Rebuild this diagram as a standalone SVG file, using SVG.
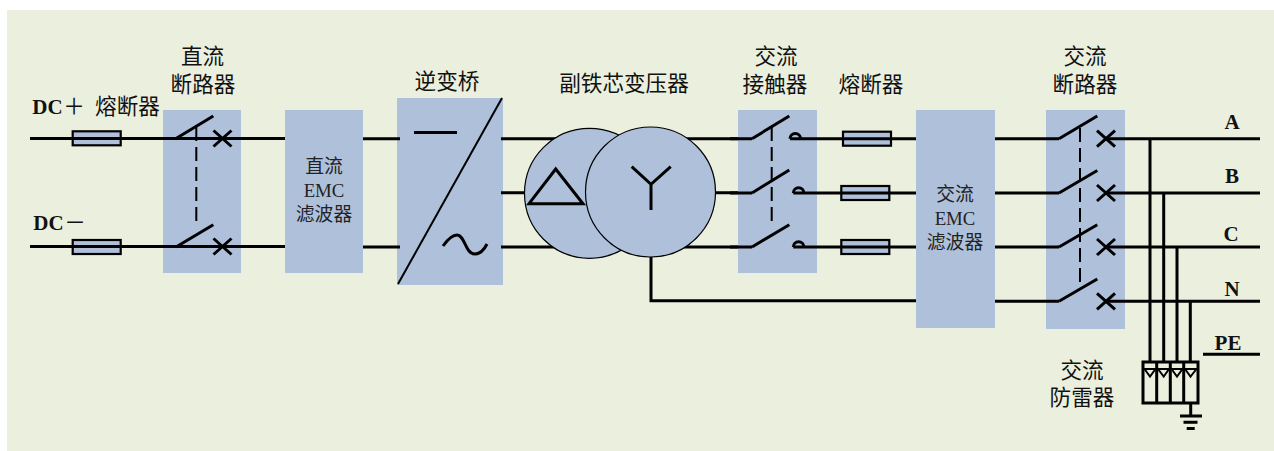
<svg xmlns="http://www.w3.org/2000/svg" width="1274" height="451" viewBox="0 0 1274 451">
<style>
text{font-family:"Liberation Serif","Noto Sans CJK SC",serif;fill:#111;text-anchor:middle}
.t{font-size:21.6px}
.s{font-size:18.8px;fill:#222}
.b{font-size:21px;font-weight:bold}
.p{font-size:21.6px}
.box{fill:#aec0da;stroke:none}
.w{fill:none;stroke:#000;stroke-width:3}
.m{fill:none;stroke:#000;stroke-width:3}
.d{fill:none;stroke:#000;stroke-width:2;stroke-dasharray:14 6}
.f{fill:#aec0da;stroke:#000;stroke-width:2.2}
.c{fill:#aec0da;stroke:#000;stroke-width:1.2}
</style>
<defs>
<g id="x"><path class="w" d="M-9-8L9 8M-9 8L9-8"/></g>
<rect id="fuse" class="f" width="48" height="14"/>
<path id="hook" class="m" d="M0 0a5.300 5.300 0 0 1 10.600 0"/>
</defs>
<rect x="7" y="10" width="1267" height="441" fill="#ebefde"/>
<g id="dc-breaker"><rect class="box" x="163" y="110" width="78" height="163"/><text class="t" x="202.500" y="64">直流</text><text class="t" x="203" y="92">断路器</text></g>
<g id="dc-emc"><rect class="box" x="285" y="110" width="78" height="163"/><text class="s" x="324" y="173">直流</text><text class="s" x="324" y="197">EMC</text><text class="s" x="324" y="221">滤波器</text></g>
<g id="inverter"><rect class="box" x="397" y="98" width="106" height="187"/><text class="t" x="447" y="89">逆变桥</text>
<path fill="none" stroke="#000" stroke-width="2" d="M398 284L502 98"/><path class="w" d="M414 132.500H457"/><path class="w" d="M443 246C448 239 452 235 457 235C465 235 465 254 475 254C480 254 484 250 487 244"/></g>
<g id="connectors">
<path class="w" d="M30 138.500H73M121 138.500H285M30 246.500H73M121 246.500H285"/>
<path class="w" d="M363 138.700H400M363 247H400M501 138.700H560M501 192.700H530M501 247H560M680 138.700H738M710 192.700H738M680 247H738"/>
<path class="w" d="M651 257V300.700H916"/>
<path class="w" d="M790 138.700H843M891 138.700H916M793.300 193H841M889 193H916M793.300 247H841M889 247H916"/>
<path class="w" d="M995 138.700H1059M995 193H1059M995 247H1059M995 301.300H1059"/>
<path class="w" d="M1106 138.700H1260M1106 193H1260M1106 247H1260M1106 301.300H1260"/>
<path class="w" d="M1150 138.700V362M1163.700 193V362M1177 247V362M1190.300 301.300V362"/>
<path class="w" d="M1203 354.300H1260"/>
</g>
<g id="dc-switches">
<path class="m" d="M176 138.500L213.300 116M176 247L213.300 224.700"/><path class="d" d="M196.300 127V225"/>
<use href="#x" x="222.500" y="138.500"/><use href="#x" x="222.500" y="246.500"/>
</g>
<g id="dc-fuse-1"><use href="#fuse" x="72.700" y="131.300"/><path class="w" d="M73 138.500H121"/></g>
<g id="dc-fuse-2"><use href="#fuse" x="72.700" y="240"/><path class="w" d="M73 246.500H121"/></g>
<g id="dc-labels"><text class="b" x="47.500" y="114">DC</text><text class="p" x="74" y="114">＋</text><text class="t" x="127.500" y="114">熔断器</text><text class="b" x="48.500" y="230">DC</text><text class="p" x="75" y="230">－</text></g>
<g id="transformer"><text class="t" x="624" y="91">副铁芯变压器</text>
<circle class="c" cx="589.500" cy="193.300" r="65"/><circle class="c" cx="650.500" cy="192" r="65"/>
<path class="w" d="M555.700 169L583 203.700H529Z"/><path class="w" d="M631.700 166.700L651 184.300L670.700 166.700M651 184.300V210"/></g>
<g id="ac-contactor"><rect class="box" x="738" y="110" width="79" height="163"/><text class="t" x="776" y="64">交流</text><text class="t" x="775" y="92">接触器</text>
<path class="w" d="M730 138.700H752M730 193H752M730 247H752"/>
<path class="m" d="M752 138.700L789.300 116M752 193L789.300 170M752 247L789.300 224.700"/><path class="d" d="M771.700 127V224"/>
<use href="#hook" x="790" y="138.700"/><use href="#hook" x="793.300" y="193"/><use href="#hook" x="793.300" y="247"/>
<path class="w" d="M790 138.700H817M793.300 193H817M793.300 247H817"/></g>
<g id="ac-fuses"><text class="t" x="871" y="92">熔断器</text>
<use href="#fuse" x="843" y="131.700"/><use href="#fuse" x="841.300" y="186"/><use href="#fuse" x="841.300" y="240"/>
<path class="w" d="M843 138.700H891M841 193H889M841 247H889"/></g>
<g id="ac-emc"><rect class="box" x="916" y="110" width="79" height="218"/><text class="s" x="955" y="201">交流</text><text class="s" x="955" y="225">EMC</text><text class="s" x="955" y="249">滤波器</text></g>
<g id="ac-breaker"><rect class="box" x="1046" y="110" width="79" height="219"/><text class="t" x="1085" y="64">交流</text><text class="t" x="1085" y="92">断路器</text>
<path class="w" d="M1046 138.700H1059M1046 193H1059M1046 247H1059M1046 301.300H1059M1106 138.700H1125M1106 193H1125M1106 247H1125M1106 301.300H1125"/>
<path class="m" d="M1059 138.700L1097.300 116M1059 193L1097.300 170.500M1059 247L1097.300 224.700M1059 301.300L1097.300 279"/><path class="d" d="M1080 128V288"/>
<use href="#x" x="1106" y="138.700"/><use href="#x" x="1106" y="193"/><use href="#x" x="1106" y="247"/><use href="#x" x="1106" y="301.300"/></g>
<g id="phase-labels"><text class="b" x="1232" y="129">A</text><text class="b" x="1232" y="183">B</text><text class="b" x="1231" y="241">C</text><text class="b" x="1232" y="296">N</text><text class="b" x="1228" y="350">PE</text></g>
<g id="spd"><text class="t" x="1082" y="378">交流</text><text class="t" x="1082" y="405">防雷器</text>
<rect fill="none" stroke="#000" stroke-width="3" x="1143" y="362" width="55" height="41"/>
<path class="w" d="M1156.700 362V403M1170.300 362V403M1183.700 362V403"/>
<path fill="none" stroke="#000" stroke-width="2" d="M1143 369H1198M1144.500 369L1150 376.500L1155.500 369M1158 369L1163.700 376.500L1169 369M1171.500 369L1177 376.500L1182.500 369M1185 369L1190.500 376.500L1196.500 369"/>
<path class="w" d="M1190.700 403V416M1180 416H1202M1183.500 422.300H1197.500M1186.700 428.500H1194.700"/></g>
</svg>
